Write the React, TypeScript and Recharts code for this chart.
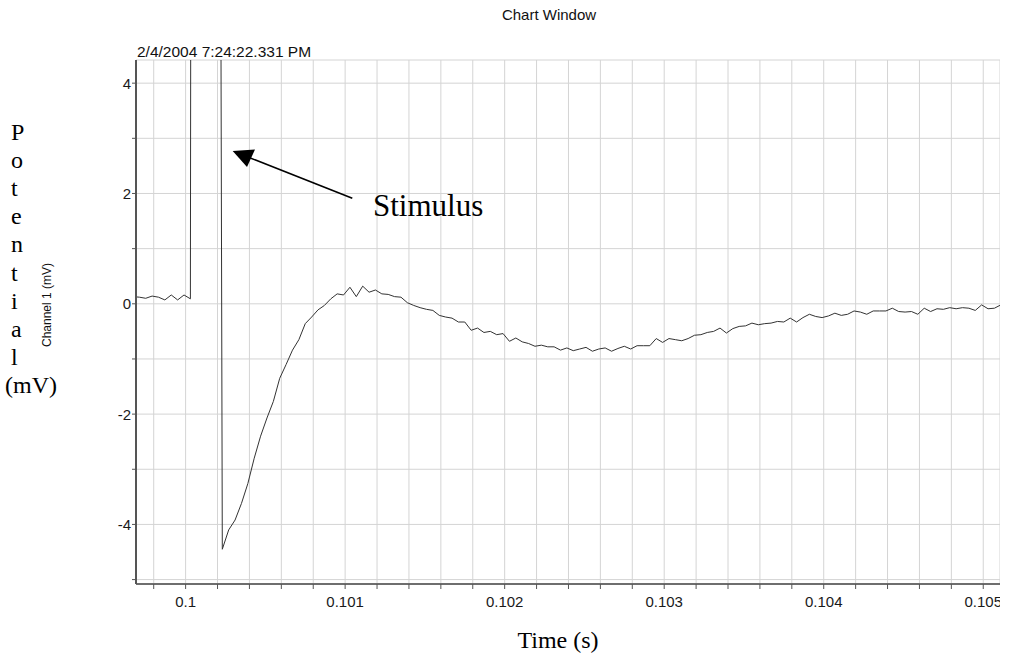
import React from 'react';
import { LineChart, Line, XAxis, YAxis, CartesianGrid } from 'recharts';

// sampling: first sample time and interval (s)
const T0 = 0.09967;
const DT = 0.00004;

// Channel 1 potential (mV)
const preStimulus = [0.13, 0.12, 0.1, 0.14, 0.12, 0.07, 0.16, 0.07, 0.16, 0.09];
const stimulusArtifact = [100, 100, 100, 40];
const recovery = [
  -4.45, -4.1, -3.92, -3.62, -3.26, -2.8, -2.4, -2.07, -1.77, -1.35,
  -1.1, -0.84, -0.65, -0.36, -0.24, -0.11, -0.03, 0.09, 0.18, 0.16,
  0.3, 0.13, 0.32, 0.21, 0.25, 0.18, 0.17, 0.13, 0.12, 0.02,
  -0.03, -0.07, -0.1, -0.12, -0.21, -0.24, -0.26, -0.33, -0.33, -0.48,
  -0.44,
];
const slowWave = [
  -0.52, -0.5, -0.56, -0.54, -0.68, -0.62, -0.69, -0.72, -0.77, -0.75,
  -0.78, -0.78, -0.84, -0.8, -0.85, -0.82, -0.79, -0.86, -0.82, -0.8,
  -0.86, -0.81, -0.77, -0.82, -0.76, -0.76, -0.76, -0.63, -0.7, -0.63,
  -0.65, -0.67, -0.63, -0.57, -0.56, -0.52, -0.5, -0.44, -0.53, -0.45,
  -0.41, -0.4, -0.35, -0.38, -0.36, -0.35, -0.32, -0.33, -0.26, -0.33,
  -0.25, -0.19, -0.23, -0.25, -0.22, -0.17, -0.21, -0.19, -0.13, -0.15,
  -0.19, -0.13, -0.13, -0.13, -0.08, -0.14, -0.15, -0.14, -0.19, -0.08,
  -0.14, -0.09, -0.1, -0.07, -0.09, -0.07, -0.08, -0.12, -0.02, -0.09,
  -0.08, -0.02,
];

const xTicks = [
  0.0998, 0.1, 0.1002, 0.1004, 0.1006, 0.1008, 0.101, 0.1012, 0.1014,
  0.1016, 0.1018, 0.102, 0.1022, 0.1024, 0.1026, 0.1028, 0.103, 0.1032,
  0.1034, 0.1036, 0.1038, 0.104, 0.1042, 0.1044, 0.1046, 0.1048, 0.105,
];
const xLabels = [0.1, 0.101, 0.102, 0.103, 0.104, 0.105];
const yTicks = [-5, -4, -3, -2, -1, 0, 1, 2, 3, 4];
const yLabels = [-4, -2, 0, 2, 4];

const potentialLines = ['P', 'o', 't', 'e', 'n', 't', 'i', 'a', 'l', '(mV)'];

const samples = [...preStimulus, ...stimulusArtifact, ...recovery, ...slowWave];
const data = samples.map((v, i) => ({ t: T0 + i * DT, mv: v }));

const sans = '"Liberation Sans", Arial, sans-serif';
const serif = '"Liberation Serif", "Times New Roman", serif';

const fmtX = (v: number) => (xLabels.some(l => Math.abs(l - v) < 1e-9) ? String(v) : '');

const YTick = ({ x, y, payload }: any) => {
  if (!yLabels.includes(payload.value)) return null;
  return (
    <text x={x} y={y} dy="0.36em" textAnchor="end" fontSize={15} fontFamily={sans} fill="#1a1a1a">
      {payload.value}
    </text>
  );
};

export default function App() {
  return (
    <div style={{ position: 'absolute', left: 0, top: 0, width: 1013, height: 657, overflow: 'hidden', background: '#fff' }}>
      <LineChart width={1000} height={657} data={data} margin={{ top: 60, right: 0, bottom: 0, left: 0 }}>
        <CartesianGrid stroke="#d4d4d4" />
        <XAxis
          type="number"
          dataKey="t"
          domain={[0.099689, 0.105105]}
          allowDataOverflow
          ticks={xTicks}
          interval={0}
          tickFormatter={fmtX}
          height={73}
          tickSize={5}
          tickMargin={7}
          axisLine={{ stroke: '#6e6e6e', strokeWidth: 2 }}
          tickLine={{ stroke: '#555' }}
          tick={{ fill: '#1a1a1a', fontSize: 15, fontFamily: sans }}
        />
        <YAxis
          type="number"
          domain={[-5.08, 4.42]}
          allowDataOverflow
          ticks={yTicks}
          interval={0}
          width={136}
          tickSize={4}
          tickMargin={1}
          axisLine={{ stroke: '#555', strokeWidth: 2 }}
          tickLine={{ stroke: '#555' }}
          tick={<YTick />}
        />
        <Line
          type="linear"
          dataKey="mv"
          stroke="#333"
          strokeWidth={1}
          dot={false}
          isAnimationActive={false}
        />
      </LineChart>

      <svg width={1013} height={657} style={{ position: 'absolute', left: 0, top: 0, pointerEvents: 'none' }}>
        <text x={549} y={20} textAnchor="middle" fontFamily={sans} fontSize={15} fill="#111">Chart Window</text>
        <text x={137} y={57} fontFamily={sans} fontSize={15.5} fill="#111">2/4/2004 7:24:22.331 PM</text>
        <text
          transform="translate(51,305) rotate(-90)"
          textAnchor="middle"
          fontFamily={sans}
          fontSize={12}
          fill="#111"
        >
          Channel 1 (mV)
        </text>
        {potentialLines.map((s, i) => (
          <text key={i} x={s.length > 1 ? 5 : 11} y={140 + i * 28.1} fontFamily={serif} fontSize={24} fill="#000">
            {s}
          </text>
        ))}
        <text x={373} y={216} fontFamily={serif} fontSize={31} fill="#000">Stimulus</text>
        <text x={558} y={648} textAnchor="middle" fontFamily={serif} fontSize={24} fill="#000">Time (s)</text>
        <line x1={352.3} y1={198.3} x2={249} y2={157.5} stroke="#000" strokeWidth={1.6} />
        <polygon points="232.7,151 255,149.6 247,167" fill="#000" />
      </svg>
    </div>
  );
}
